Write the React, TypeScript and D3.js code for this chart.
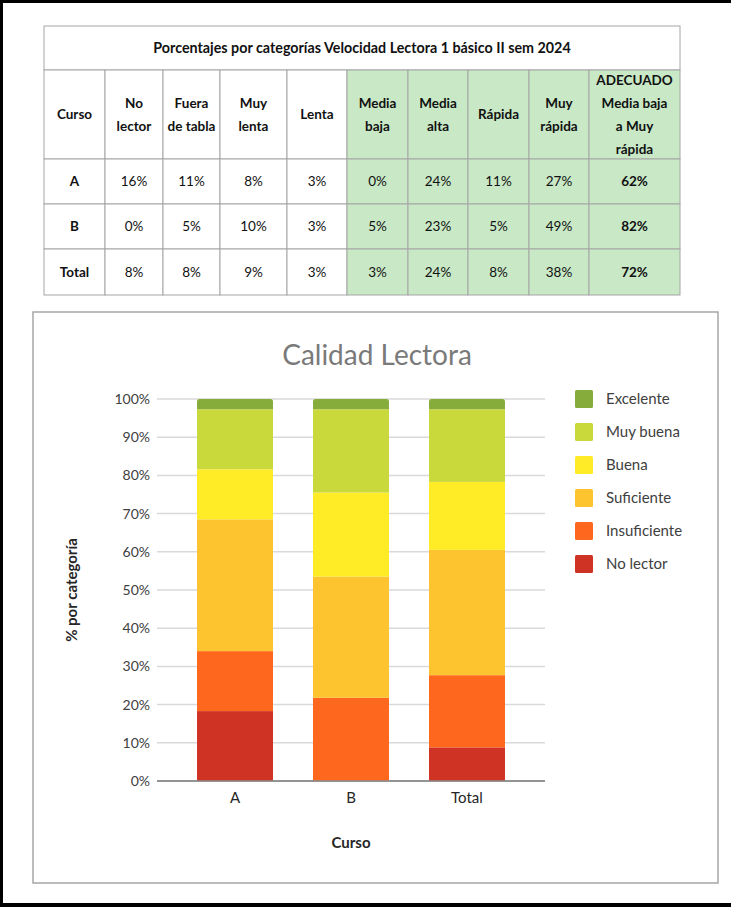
import React from "react"
import * as d3 from "d3"

// table data
const tableTitle = "Porcentajes por categorías Velocidad Lectora 1 básico II sem 2024"
const tableHeaders = [
  [ "Curso" ],
  [ "No", "lector" ],
  [ "Fuera", "de tabla" ],
  [ "Muy", "lenta" ],
  [ "Lenta" ],
  [ "Media", "baja" ],
  [ "Media", "alta" ],
  [ "Rápida" ],
  [ "Muy", "rápida" ],
  [ "ADECUADO", "Media baja", "a Muy", "rápida" ]
]
const tableRowNames = [ "A", "B", "Total" ]
const rowA = [ "16%", "11%", "8%", "3%", "0%", "24%", "11%", "27%", "62%" ]
const rowB = [ "0%", "5%", "10%", "3%", "5%", "23%", "5%", "49%", "82%" ]
const rowTotal = [ "8%", "8%", "9%", "3%", "3%", "24%", "8%", "38%", "72%" ]

// chart data
const courses = [ "A", "B", "Total" ]
const categories = [ "No lector", "Insuficiente", "Suficiente", "Buena", "Muy buena", "Excelente" ]
const noLector = [ 18.3, 0, 8.8 ]
const insuficiente = [ 15.7, 21.8, 18.9 ]
const suficiente = [ 34.5, 31.7, 32.8 ]
const buena = [ 13.1, 22.0, 17.8 ]
const muyBuena = [ 15.7, 21.8, 19.0 ]
const excelente = [ 2.7, 2.7, 2.7 ]
const yTicks = [ 0, 10, 20, 30, 40, 50, 60, 70, 80, 90, 100 ]

const colors = [ "#cf3324", "#fe671e", "#fec42f", "#ffec26", "#c9d83a", "#86ad3b" ]

const FONT = "Lato, 'Open Sans', sans-serif"

const W = 731
const H = 907

// table layout
const colEdges = [ 44, 105, 163, 220, 287, 347, 408, 468, 529, 589, 680 ]
const rowEdges = [ 26, 70, 159, 204, 249, 295 ]

function Table() {
  const rows = [ rowA, rowB, rowTotal ]
  const cells = []
  // title row
  cells.push(
    <rect key="title" x={colEdges[ 0 ]} y={rowEdges[ 0 ]} width={colEdges[ 10 ] - colEdges[ 0 ]}
      height={rowEdges[ 1 ] - rowEdges[ 0 ]} fill="#fff" stroke="#a6a6a6" />
  )
  for ( let r = 1; r < rowEdges.length - 1; r++ ) {
    for ( let c = 0; c < colEdges.length - 1; c++ ) {
      cells.push(
        <rect key={r + "-" + c} x={colEdges[ c ]} y={rowEdges[ r ]}
          width={colEdges[ c + 1 ] - colEdges[ c ]} height={rowEdges[ r + 1 ] - rowEdges[ r ]}
          fill={c >= 5 ? "#c8e8c6" : "#fff"} stroke="#a6a6a6" />
      )
    }
  }
  const lineH = 23
  return (
    <g fontFamily={FONT} fontSize={13.5} fill="#111">
      {cells}
      <text x={( colEdges[ 0 ] + colEdges[ 10 ] ) / 2} y={( rowEdges[ 0 ] + rowEdges[ 1 ] ) / 2}
        dy="0.35em" textAnchor="middle" fontWeight="bold" fontSize={14.3}>{tableTitle}</text>
      {tableHeaders.map( ( lines, c ) => {
        const cx = ( colEdges[ c ] + colEdges[ c + 1 ] ) / 2
        const cy = ( rowEdges[ 1 ] + rowEdges[ 2 ] ) / 2
        const start = cy - ( lines.length - 1 ) * lineH / 2
        return lines.map( ( l, i ) => (
          <text key={c + "-" + i} x={cx} y={start + i * lineH} dy="0.35em"
            textAnchor="middle" fontWeight="bold">{l}</text>
        ) )
      } )}
      {tableRowNames.map( ( name, r ) => {
        const cy = ( rowEdges[ r + 2 ] + rowEdges[ r + 3 ] ) / 2
        return (
          <g key={name}>
            <text x={( colEdges[ 0 ] + colEdges[ 1 ] ) / 2} y={cy} dy="0.35em"
              textAnchor="middle" fontWeight="bold">{name}</text>
            {rows[ r ].map( ( v, c ) => (
              <text key={c} x={( colEdges[ c + 1 ] + colEdges[ c + 2 ] ) / 2} y={cy} dy="0.35em"
                textAnchor="middle" fontWeight={c === 8 ? "bold" : "normal"}>{v}</text>
            ) )}
          </g>
        )
      } )}
    </g>
  )
}

function Chart() {
  const data = courses.map( ( c, i ) => ( {
    course: c,
    "No lector": noLector[ i ],
    "Insuficiente": insuficiente[ i ],
    "Suficiente": suficiente[ i ],
    "Buena": buena[ i ],
    "Muy buena": muyBuena[ i ],
    "Excelente": excelente[ i ]
  } ) )
  const series = d3.stack().keys( categories )( data as any )

  const x = d3.scaleBand().domain( courses ).range( [ 157, 545 ] ).padding( 0.345 )
  const y = d3.scaleLinear().domain( [ 0, 100 ] ).range( [ 781, 399 ] )

  return (
    <g fontFamily={FONT}>
      <rect x={33} y={312} width={685} height={571} fill="#fff" stroke="#a6a6a6" strokeWidth={1.5} />
      <text x={377} y={355} dy="0.35em" textAnchor="middle" fontSize={28} fill="#7a7a7a">Calidad Lectora</text>
      {yTicks.map( t => (
        <g key={t}>
          <line x1={157} x2={545} y1={y( t )} y2={y( t )} stroke={t === 0 ? "#8c8c8c" : "#d9d9d9"} strokeWidth={1.5} />
          <text x={150} y={y( t )} dy="0.35em" textAnchor="end" fontSize={14} fill="#404040">{t + "%"}</text>
        </g>
      ) )}
      {series.map( ( s, si ) => (
        <g key={s.key} fill={colors[ si ]}>
          {s.map( ( d, i ) => {
            const x0 = x( courses[ i ] ) as number
            const bw = x.bandwidth()
            const top = y( d[ 1 ] )
            const bot = y( d[ 0 ] )
            if ( bot - top <= 0 ) return null
            if ( si === series.length - 1 ) {
              // rounded top corners on the top segment
              const r = 2.5
              const p = d3.path()
              p.moveTo( x0, bot )
              p.lineTo( x0, top + r )
              p.quadraticCurveTo( x0, top, x0 + r, top )
              p.lineTo( x0 + bw - r, top )
              p.quadraticCurveTo( x0 + bw, top, x0 + bw, top + r )
              p.lineTo( x0 + bw, bot )
              p.closePath()
              return <path key={i} d={p.toString()} />
            }
            return <rect key={i} x={x0} y={top} width={bw} height={bot - top} />
          } )}
        </g>
      ) )}
      <line x1={157} x2={545} y1={y( 0 )} y2={y( 0 )} stroke="#8c8c8c" strokeWidth={1.5} />
      {courses.map( c => (
        <text key={c} x={( x( c ) as number ) + x.bandwidth() / 2} y={798} dy="0.35em"
          textAnchor="middle" fontSize={15} fill="#262626">{c}</text>
      ) )}
      <text x={351} y={843} dy="0.35em" textAnchor="middle" fontSize={15} fontWeight="bold" fill="#262626">Curso</text>
      <text transform={`translate(72,${ y( 50 ) }) rotate(-90)`} dy="0.35em" textAnchor="middle"
        fontSize={15} fontWeight="bold" fill="#262626">% por categoría</text>
      {categories.slice().reverse().map( ( c, i ) => {
        const ci = categories.length - 1 - i
        const cy = 399 + i * 33
        return (
          <g key={c}>
            <rect x={575} y={cy - 9} width={18} height={18} rx={1.5} fill={colors[ ci ]} />
            <text x={606} y={cy} dy="0.35em" fontSize={15} fill="#404040">{c}</text>
          </g>
        )
      } )}
    </g>
  )
}

export default function App() {
  return (
    <svg width={W} height={H} style={{ position: "absolute", left: 0, top: 0, background: "#fff" }}>
      <rect x={0} y={0} width={W} height={H} fill="#fff" />
      <rect x={0} y={0} width={W} height={3} fill="#000" />
      <rect x={0} y={0} width={3} height={H} fill="#000" />
      <rect x={0} y={903} width={W} height={4} fill="#000" />
      <Table />
      <Chart />
    </svg>
  )
}
